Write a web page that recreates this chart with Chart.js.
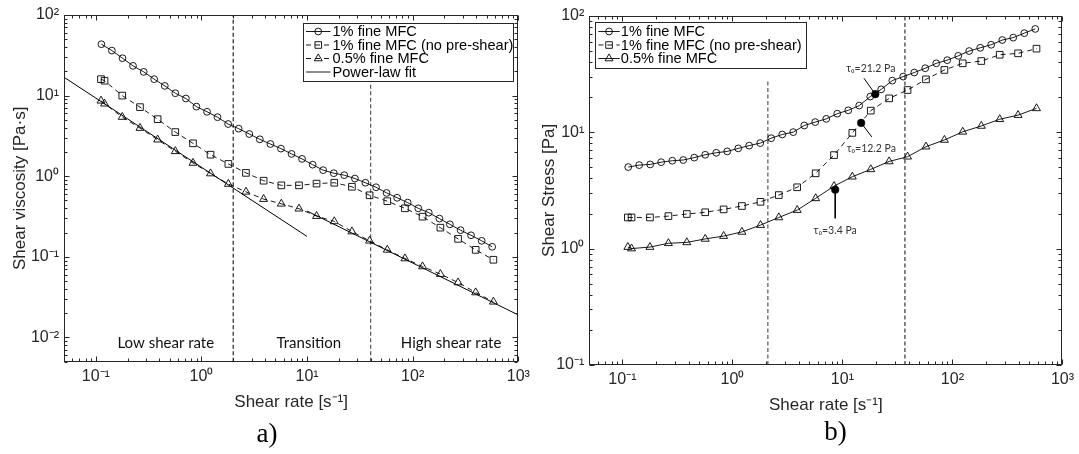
<!DOCTYPE html>
<html><head><meta charset="utf-8">
<script src="https://cdn.jsdelivr.net/npm/chart.js@4.4.1/dist/chart.umd.min.js"></script>
<style>
html,body{margin:0;padding:0;background:#fff;}
#wrap{position:relative;width:1079px;height:454px;overflow:hidden;background:#fff;}
canvas{position:absolute;top:0;}
#ca{left:0;} #cb{left:540px;}
</style></head><body>
<div id="wrap"><canvas id="ca" width="540" height="454"></canvas><canvas id="cb" width="539" height="454"></canvas></div>
<script>
// ---------- data ----------
const rateCircle = [0.113, 0.142, 0.179, 0.225, 0.284, 0.357, 0.450, 0.566, 0.713, 0.897, 1.13, 1.42, 1.79, 2.25, 2.84, 3.57, 4.50, 5.66, 7.13, 8.97, 11.3, 14.2, 17.9, 22.5, 28.4, 35.7, 45.0, 56.6, 71.3, 89.7, 113, 142, 179, 225, 284, 357, 450, 566];
const rateSquareTri = [0.112, 0.121, 0.178, 0.262, 0.385, 0.566, 0.832, 1.22, 1.80, 2.64, 3.88, 5.71, 8.39, 12.3, 18.1, 26.6, 39.1, 57.5, 84.5, 124, 183, 269, 395, 581];

const viscCircle = [43.4, 36.2, 29.1, 23.4, 19.7, 16.0, 13.2, 10.7, 9.2, 7.3, 6.3, 5.4, 4.44, 3.89, 3.34, 2.87, 2.51, 2.20, 1.89, 1.64, 1.39, 1.19, 1.09, 1.03, 0.935, 0.83, 0.73, 0.62, 0.54, 0.47, 0.40, 0.353, 0.298, 0.253, 0.214, 0.185, 0.158, 0.133];
const viscSquare = [16.0, 15.3, 10.0, 7.2, 5.1, 3.53, 2.56, 1.85, 1.42, 1.10, 0.88, 0.77, 0.77, 0.81, 0.83, 0.74, 0.58, 0.49, 0.40, 0.315, 0.23, 0.167, 0.122, 0.092];
const viscTriangle = [8.63, 7.93, 5.42, 3.96, 2.84, 2.04, 1.46, 1.08, 0.80, 0.64, 0.52, 0.455, 0.395, 0.32, 0.275, 0.206, 0.158, 0.122, 0.0953, 0.0759, 0.061, 0.048, 0.0361, 0.0277];
const fitLowRate = [0.05, 10];
const fitLowVisc = [16.9, 0.179];
const fitHighRate = [10, 1000];
const fitHighVisc = [0.37, 0.019];

const stressCircle = [5.01, 5.21, 5.28, 5.52, 5.68, 5.76, 6.04, 6.39, 6.65, 6.83, 7.25, 7.66, 8.05, 8.87, 9.55, 10.0, 11.4, 12.2, 13.0, 14.4, 15.4, 16.9, 20.2, 23.3, 27.7, 30.0, 32.5, 35.4, 39.0, 41.5, 45.2, 49.7, 53.0, 56.3, 61.8, 64.8, 70.8, 77.0];
const stressSquare = [1.85, 1.85, 1.85, 1.90, 1.98, 2.05, 2.17, 2.32, 2.52, 2.88, 3.36, 4.43, 6.35, 9.85, 15.3, 19.5, 23.0, 28.4, 34.2, 39.0, 40.8, 46.2, 47.5, 52.1];
const stressTriangle = [1.03, 1.00, 1.03, 1.11, 1.13, 1.21, 1.28, 1.39, 1.59, 1.85, 2.14, 2.70, 3.44, 4.14, 4.79, 5.60, 6.15, 7.50, 8.56, 10.06, 11.3, 12.9, 14.0, 16.0];

const boundaryRateA = [2.0, 40];
const boundaryTopA = [100, 15.2];
const boundaryRateB = [2.1, 37];
const boundaryTopB = [28, 100];

const yieldRate = [19.9, 14.8, 8.6];
const yieldStress = [21.2, 12.0, 3.2];
const yieldLabels = ['τ₀=21.2 Pa', 'τ₀=12.2 Pa', 'τ₀=3.4 Pa'];
const pointerEndRate = [15.7, 18.5, 8.6];
const pointerEndStress = [29.0, 9.1, 1.82];
const yieldLabelRate = [18.1, 18.3, 8.6];
const yieldLabelStress = [35.3, 7.26, 1.44];

const regionLabels = ['Low shear rate', 'Transition', 'High shear rate'];
const regionLabelRate = [0.46, 10.4, 231];
const regionLabelVisc = [0.0085, 0.0085, 0.0085];

const seriesNamesA = ['1% fine MFC', '1% fine MFC (no pre-shear)', '0.5% fine MFC', 'Power-law fit'];
const seriesNamesB = ['1% fine MFC', '1% fine MFC (no pre-shear)', '0.5% fine MFC'];

const xTickValues = [0.1, 1, 10, 100, 1000];
const xTickLabels = ['10⁻¹', '10⁰', '10¹', '10²', '10³'];
const yTickValuesA = [0.01, 0.1, 1, 10, 100];
const yTickLabelsA = ['10⁻²', '10⁻¹', '10⁰', '10¹', '10²'];
const yTickValuesB = [0.1, 1, 10, 100];
const yTickLabelsB = ['10⁻¹', '10⁰', '10¹', '10²'];

// ---------- styling ----------
const FONT = "'Liberation Sans', Arial, Helvetica, sans-serif";
const TXT = '#262626';
const pts = (xs, ys) => xs.map((v, i) => ({x: v, y: ys[i]}));

function series(data, style, dash) {
  const r = style === 'circle' ? 3.4 : (style === 'rect' ? 4.7 : 4.6);
  return {
    data, showLine: true, borderColor: '#000', borderWidth: 0.9, borderDash: dash,
    pointStyle: style, pointRadius: r, pointBorderWidth: 0.9,
    pointBorderColor: '#000', pointBackgroundColor: 'rgba(0,0,0,0)', pointHoverRadius: 0
  };
}
function plainLine(data, dash, color, width) {
  return {data, showLine: true, borderColor: color, borderWidth: width, borderDash: dash, pointRadius: 0, pointHoverRadius: 0};
}

function logSteps(min, max) {
  const out = [];
  for (let e = Math.floor(Math.log10(min)) - 1; e <= Math.ceil(Math.log10(max)); e++) {
    for (let m = 1; m <= 9; m++) {
      const v = m * Math.pow(10, e);
      if (v >= min * 0.9999 && v <= max * 1.0001) out.push([v, m === 1]);
    }
  }
  return out;
}

function drawMarker(ctx, kind, x, y) {
  ctx.beginPath();
  if (kind === 'circle') ctx.arc(x, y, 3.4, 0, Math.PI * 2);
  else if (kind === 'rect') ctx.rect(x - 3.3, y - 3.3, 6.6, 6.6);
  else if (kind === 'triangle') { const r = 4.6; ctx.moveTo(x, y - r); ctx.lineTo(x + r * 0.866, y + r / 2); ctx.lineTo(x - r * 0.866, y + r / 2); ctx.closePath(); }
  ctx.stroke();
}

function framePlugin(cfg) {
  return {
    id: 'frame' + cfg.key,
    afterDatasetsDraw(chart) {
      const {ctx, chartArea: a} = chart;
      const xs = chart.scales.x, ys = chart.scales.y;
      ctx.save();
      ctx.setLineDash([]);
      ctx.strokeStyle = TXT; ctx.lineWidth = 1;
      const L = Math.round(a.left) + 0.5, R = Math.round(a.right) - 0.5, T = Math.round(a.top) + 0.5, B = Math.round(a.bottom) - 0.5;
      ctx.beginPath();
      logSteps(xs.min, xs.max).forEach(([v, major]) => {
        const p = Math.round(xs.getPixelForValue(v)) + 0.5; const len = major ? 5 : 3;
        ctx.moveTo(p, B); ctx.lineTo(p, B - len); ctx.moveTo(p, T); ctx.lineTo(p, T + len);
      });
      logSteps(ys.min, ys.max).forEach(([v, major]) => {
        const p = Math.round(ys.getPixelForValue(v)) + 0.5; const len = major ? 5 : 3;
        ctx.moveTo(L, p); ctx.lineTo(L + len, p); ctx.moveTo(R, p); ctx.lineTo(R - len, p);
      });
      ctx.stroke();
      ctx.strokeRect(L, T, R - L, B - T);

      // legend
      const lg = cfg.legend;
      ctx.fillStyle = '#fff';
      ctx.fillRect(lg.l, lg.t, lg.r - lg.l, lg.b - lg.t);
      ctx.strokeStyle = TXT; ctx.lineWidth = 1;
      ctx.strokeRect(Math.round(lg.l) + 0.5, Math.round(lg.t) + 0.5, Math.round(lg.r - lg.l), Math.round(lg.b - lg.t));
      ctx.font = '14.6px ' + FONT; ctx.textAlign = 'left'; ctx.textBaseline = 'middle';
      lg.items.forEach((it, i) => {
        const y = lg.rows[i];
        ctx.strokeStyle = '#000'; ctx.lineWidth = 0.9;
        ctx.setLineDash(it.dash);
        ctx.beginPath(); ctx.moveTo(lg.x0, y); ctx.lineTo(lg.x1, y); ctx.stroke();
        ctx.setLineDash([]);
        if (it.marker) drawMarker(ctx, it.marker, (lg.x0 + lg.x1) / 2, y);
        ctx.fillStyle = '#000';
        ctx.fillText(it.label, lg.tx, y + 0.5);
      });

      // annotations in data space
      (cfg.texts || []).forEach(t => {
        ctx.font = t.font; ctx.fillStyle = t.color; ctx.textAlign = 'center'; ctx.textBaseline = 'middle';
        ctx.fillText(t.text, xs.getPixelForValue(t.x), ys.getPixelForValue(t.y));
      });
      // panel label
      ctx.font = cfg.panel.font; ctx.fillStyle = '#000'; ctx.textAlign = 'center'; ctx.textBaseline = 'middle';
      ctx.fillText(cfg.panel.text, cfg.panel.x, cfg.panel.y);
      ctx.restore();
    }
  };
}

function axisOptions(o) {
  return {
    x: {
      type: 'logarithmic', min: 0.05, max: 1000,
      afterBuildTicks: s => { s.ticks = xTickValues.map(v => ({value: v})); },
      afterFit: s => { s.height = o.xH; },
      grid: {display: false, drawTicks: false}, border: {display: false},
      ticks: {autoSkip: false, maxRotation: 0, minRotation: 0, padding: 5, color: TXT, font: {family: FONT, size: 16},
        callback: v => { const i = xTickValues.indexOf(v); return i >= 0 ? xTickLabels[i] : ''; }},
      title: {display: true, text: 'Shear rate [s⁻¹]', color: TXT, font: {family: FONT, size: 17, lineHeight: 1}, padding: {top: 0, bottom: 0}}
    },
    y: {
      type: 'logarithmic', min: o.yMin, max: 100,
      afterBuildTicks: s => { s.ticks = o.yVals.map(v => ({value: v})); },
      afterFit: s => { s.width = o.yW; },
      grid: {display: false, drawTicks: false}, border: {display: false},
      ticks: {autoSkip: false, padding: 5, color: TXT, font: {family: FONT, size: 16},
        callback: v => { const i = o.yVals.indexOf(v); return i >= 0 ? o.yLabels[i] : ''; }},
      title: {display: true, text: o.yTitle, color: TXT, font: {family: FONT, size: 17, lineHeight: 1}, padding: {top: o.yTitlePad, bottom: 0}}
    }
  };
}

// ---------- panel a ----------
new Chart(document.getElementById('ca'), {
  type: 'scatter',
  data: {datasets: [
    series(pts(rateCircle, viscCircle), 'circle', []),
    series(pts(rateSquareTri, viscSquare), 'rect', [5, 4]),
    series(pts(rateSquareTri, viscTriangle), 'triangle', [5, 4]),
    plainLine(pts(fitLowRate, fitLowVisc), [], '#000', 1),
    plainLine(pts(fitHighRate, fitHighVisc), [], '#000', 1),
    plainLine(pts([boundaryRateA[0], boundaryRateA[0]], [0.005, boundaryTopA[0]]), [4, 2.5], '#222', 1.2),
    plainLine(pts([boundaryRateA[1], boundaryRateA[1]], [0.005, boundaryTopA[1]]), [4, 2.5], '#555', 1.2)
  ]},
  options: {
    responsive: false, animation: false, devicePixelRatio: 1,
    layout: {padding: {left: 0, right: 21.7, top: 15, bottom: 43.5}},
    plugins: {legend: {display: false}, tooltip: {enabled: false}},
    scales: axisOptions({xH: 48.8, yMin: 0.005, yVals: yTickValuesA, yLabels: yTickLabelsA, yW: 64, yTitle: 'Shear viscosity [Pa·s]', yTitlePad: 11.5})
  },
  plugins: [framePlugin({
    key: 'A',
    legend: {l: 303, t: 22.5, r: 513, b: 80, rows: [31.5, 45, 58.5, 72], x0: 306, x1: 330.5, tx: 332.5,
      items: [
        {label: seriesNamesA[0], marker: 'circle', dash: []},
        {label: seriesNamesA[1], marker: 'rect', dash: [5, 4]},
        {label: seriesNamesA[2], marker: 'triangle', dash: [5, 4]},
        {label: seriesNamesA[3], marker: null, dash: []}
      ]},
    texts: regionLabels.map((t, i) => ({text: t, x: regionLabelRate[i], y: regionLabelVisc[i], font: "15px Lato, 'Open Sans', sans-serif", color: '#111'})),
    panel: {text: 'a)', x: 267, y: 435, font: "27px 'Liberation Serif', 'DejaVu Serif', serif"}
  })]
});

// ---------- panel b ----------
const pointerSets = yieldRate.map((r, i) => plainLine(pts([r, pointerEndRate[i]], [yieldStress[i], pointerEndStress[i]]), [], '#000', 1));
new Chart(document.getElementById('cb'), {
  type: 'scatter',
  data: {datasets: [
    {data: pts(yieldRate, yieldStress), showLine: false, pointStyle: 'circle', pointRadius: 3.8, pointBorderWidth: 0.5, pointBorderColor: '#000', pointBackgroundColor: '#000', pointHoverRadius: 0},
    ...pointerSets,
    series(pts(rateCircle, stressCircle), 'circle', []),
    series(pts(rateSquareTri, stressSquare), 'rect', [5, 4]),
    series(pts(rateSquareTri, stressTriangle), 'triangle', []),
    plainLine(pts([boundaryRateB[0], boundaryRateB[0]], [0.1, boundaryTopB[0]]), [4, 2.5], '#555', 1.2),
    plainLine(pts([boundaryRateB[1], boundaryRateB[1]], [0.1, boundaryTopB[1]]), [4, 2.5], '#333', 1.2)
  ]},
  options: {
    responsive: false, animation: false, devicePixelRatio: 1,
    layout: {padding: {left: 0, right: 14.7, top: 15.7, bottom: 40.5}},
    plugins: {legend: {display: false}, tooltip: {enabled: false}},
    scales: axisOptions({xH: 48.5, yMin: 0.1, yVals: yTickValuesB, yLabels: yTickLabelsB, yW: 49.3, yTitle: 'Shear Stress [Pa]', yTitlePad: 0.5})
  },
  plugins: [framePlugin({
    key: 'B',
    legend: {l: 55, t: 22.3, r: 266.3, b: 68.3, rows: [31.5, 45, 58.5], x0: 58.4, x1: 79.7, tx: 80.8,
      items: [
        {label: seriesNamesB[0], marker: 'circle', dash: []},
        {label: seriesNamesB[1], marker: 'rect', dash: [5, 4]},
        {label: seriesNamesB[2], marker: 'triangle', dash: []}
      ]},
    texts: yieldLabels.map((t, i) => ({text: t, x: yieldLabelRate[i], y: yieldLabelStress[i], font: "10.5px Lato, 'Open Sans', sans-serif", color: '#333'})),
    panel: {text: 'b)', x: 295.6, y: 433, font: "27px 'Liberation Serif', 'DejaVu Serif', serif"}
  })]
});
</script>
</body></html>
